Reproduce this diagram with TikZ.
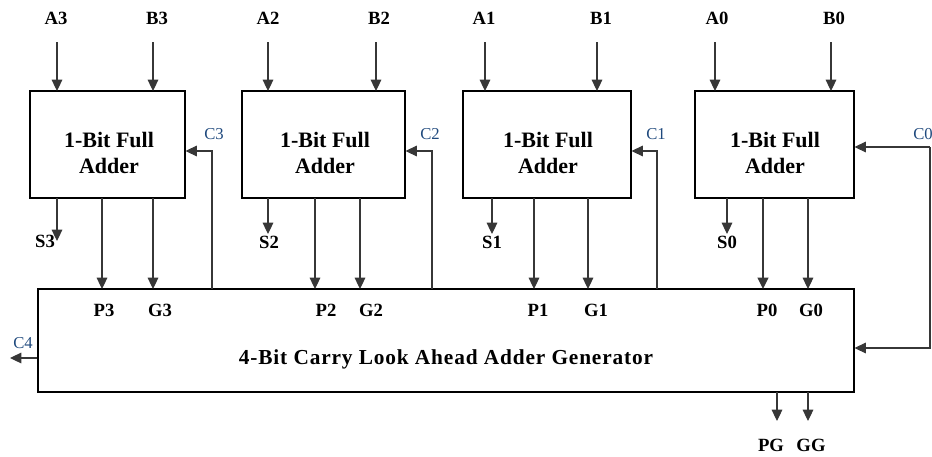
\documentclass[tikz,border=0pt]{standalone}
\usepackage{fontspec}
\setmainfont{Liberation Serif}
\usepackage{xcolor}
\usepackage{tikz}
\usetikzlibrary{arrows.meta,positioning,fit,calc}
\definecolor{carryblue}{RGB}{31,73,125}
\definecolor{wiregray}{RGB}{55,55,55}

\begin{document}
\begin{tikzpicture}[x=0.75pt,y=-0.75pt,
	sig/.style={draw=wiregray,line width=0.8pt,-{Triangle[length=8.5pt,width=8pt]}},
	fabox/.style={draw=black,line width=0.8pt,inner sep=0pt},
	fatext/.style={align=center,inner sep=0pt,font=\fontsize{16.5}{19.5}\bfseries\selectfont},
	lbl/.style={inner sep=0pt,font=\fontsize{14}{16}\bfseries\selectfont},
	clbl/.style={inner sep=0pt,text=carryblue,font=\fontsize{12.5}{15}\selectfont}]
			\useasboundingbox (0,0) rectangle (932,457);
			
			% full adders
			\node[fabox,fit={(30,91) (185,198)}] (fa3) {};
			\node[fabox,fit={(242,91) (405,198)}] (fa2) {};
			\node[fabox,fit={(463,91) (631,198)}] (fa1) {};
			\node[fabox,fit={(695,91) (854,198)}] (fa0) {};
			\node[fatext] (fa3t) at (109,153) {1-Bit Full\\Adder};
			\node[fatext] (fa2t) at (325,153) {1-Bit Full\\Adder};
			\node[fatext] (fa1t) at (548,153) {1-Bit Full\\Adder};
			\node[fatext] (fa0t) at (775,153) {1-Bit Full\\Adder};
			
			% carry look ahead block
			\node[fabox,fit={(38,289) (854,392)}] (cla) {};
			\node[fatext,font=\fontsize{16}{19}\bfseries\addfontfeatures{LetterSpace=4}\selectfont] (clat) at (446,359) {4-Bit Carry Look Ahead Adder Generator};
			
			% inputs
			\node[lbl] (a3) at (56,18) {A3};
			\node[lbl] (b3) at (157,18) {B3};
			\node[lbl] (a2) at (268,18) {A2};
			\node[lbl] (b2) at (379,18) {B2};
			\node[lbl] (a1) at (484,18) {A1};
			\node[lbl] (b1) at (601,18) {B1};
			\node[lbl] (a0) at (717,18) {A0};
			\node[lbl] (b0) at (834,18) {B0};
			\draw[sig] (57,42) -- (57,91);
			\draw[sig] (153,42) -- (153,91);
			\draw[sig] (268,42) -- (268,91);
			\draw[sig] (376,42) -- (376,91);
			\draw[sig] (485,42) -- (485,91);
			\draw[sig] (597,42) -- (597,91);
			\draw[sig] (715,42) -- (715,91);
			\draw[sig] (831,42) -- (831,91);
			
			% sums
			\node[lbl] (s3) at (45,241) {S3};
			\node[lbl] (s2) at (269,242) {S2};
			\node[lbl] (s1) at (492,242) {S1};
			\node[lbl] (s0) at (727,242) {S0};
			\draw[sig] (57,198) -- (57,241);
			\draw[sig] (268,198) -- (268,234);
			\draw[sig] (492,198) -- (492,234);
			\draw[sig] (727,198) -- (727,234);
			
			% propagate / generate
			\node[lbl] (p3) at (104,310) {P3};
			\node[lbl] (g3) at (160,310) {G3};
			\node[lbl] (p2) at (326,310) {P2};
			\node[lbl] (g2) at (371,310) {G2};
			\node[lbl] (p1) at (538,310) {P1};
			\node[lbl] (g1) at (596,310) {G1};
			\node[lbl] (p0) at (767,310) {P0};
			\node[lbl] (g0) at (811,310) {G0};
			\draw[sig] (102,198) -- (102,289);
			\draw[sig] (153,198) -- (153,289);
			\draw[sig] (315,198) -- (315,289);
			\draw[sig] (360,198) -- (360,289);
			\draw[sig] (534,198) -- (534,289);
			\draw[sig] (588,198) -- (588,289);
			\draw[sig,line width=1.3pt] (763,198) -- (763,289);
			\draw[sig] (808,198) -- (808,289);
			
			% carries
			\node[clbl] (c3) at (214,134) {C3};
			\node[clbl] (c2) at (430,134) {C2};
			\node[clbl] (c1) at (656,134) {C1};
			\node[clbl,anchor=west] (c0) at (913,134) {C0};
			\node[clbl,anchor=east] (c4) at (33,343) {C4};
			\draw[sig] (212,289) |- (fa3.east |- 0,151);
			\draw[sig] (432,289) |- (fa2.east |- 0,151);
			\draw[sig] (657,289) |- (fa1.east |- 0,151);
			\coordinate (cin) at (930,147);
			\draw[sig] (cin) -- (fa0.east |- cin);
			\draw[sig] (cin) |- (cla.east |- 0,348);
			\coordinate (cout) at (10,358);
			\draw[sig] (cla.west |- cout) -- (cout);
			
			% group outputs
			\node[lbl] (pg) at (771,445) {PG};
			\node[lbl] (gg) at (811,445) {GG};
			\draw[sig] (777,392) -- (777,421);
			\draw[sig] (808,392) -- (808,421);
		\end{tikzpicture}
\end{document}
